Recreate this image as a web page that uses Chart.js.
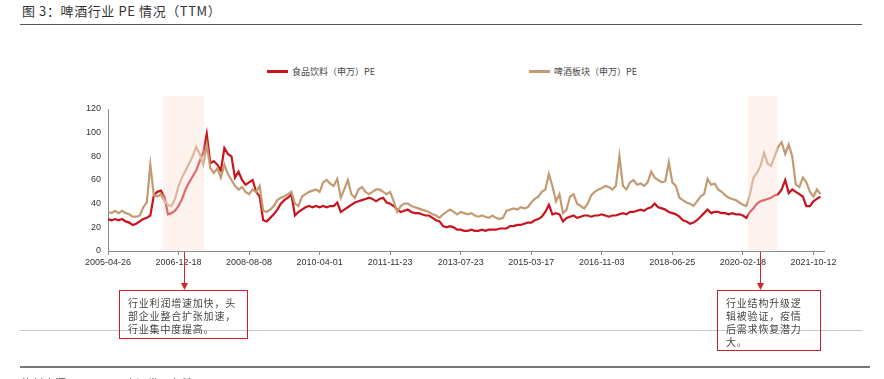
<!DOCTYPE html>
<html>
<head>
<meta charset="utf-8">
<script src="https://cdn.jsdelivr.net/npm/chart.js@4/dist/chart.umd.min.js"></script>
<style>
  html, body { margin: 0; padding: 0; background: #fff; }
  body { width: 884px; height: 379px; position: relative; overflow: hidden;
         font-family: "Noto Sans CJK SC", "Liberation Sans", sans-serif; color: #333; }
  #chart { position: absolute; left: 0; top: 0; }
  .title { position: absolute; left: 22px; top: 1px; font-size: 13px; letter-spacing: 0.6px; color: #333; }
  .rule { position: absolute; left: 20px; width: 842px; }
  .legend { position: absolute; top: 65px; font-size: 9px; color: #444; display: flex; align-items: center; }
  .legend i { display: inline-block; width: 21px; height: 2.5px; margin-right: 4px; }
  .note { position: absolute; border: 1.2px solid #c81e24; box-sizing: border-box;
          font-size: 10px; line-height: 13px; letter-spacing: 0.8px; color: #444; padding: 5px 0 0 8px; }
  .source { position: absolute; left: 22px; top: 375px; font-size: 11px; color: #444; }
</style>
</head>
<body>
<div class="title">图 3：啤酒行业 PE 情况（TTM）</div>
<div class="rule" style="top:24px;height:1px;background:#555"></div>
<div class="legend" style="left:267px"><i style="background:#c8141e"></i>食品饮料（申万）PE</div>
<div class="legend" style="left:529px"><i style="background:#c39b73"></i>啤酒板块（申万）PE</div>
<canvas id="chart" width="884" height="379"></canvas>
<div class="rule" style="top:330px;height:1px;background:#c8c8c8"></div>
<div class="note" style="left:119px;top:290px;width:129px;height:49px">行业利润增速加快，头<br>部企业整合扩张加速，<br>行业集中度提高。</div>
<div class="note" style="left:717px;top:290px;width:104px;height:61px">行业结构升级逻<br>辑被验证，疫情<br>后需求恢复潜力<br>大。</div>
<div class="rule" style="top:366px;height:2px;background:#777;width:850px"></div>
<div class="source">资料来源：Wind，平安证券研究所</div>
<script>
(() => {
  /* -----------------------------
   * Data (one point ~ every 20 trading days)
   * ----------------------------- */
  const tickLabels = [
    "2005-04-26", "2006-12-18", "2008-08-08", "2010-04-01", "2011-11-23", "2013-07-23",
    "2015-03-17", "2016-11-03", "2018-06-25", "2020-02-18", "2021-10-12",
  ];

  const foodPE = [
    27, 26, 27, 26, 27, 25, 24, 22, 23, 25, 27, 28, 30, 47, 50, 51, 46, 31, 32, 34,
    38, 44, 52, 58, 63, 68, 76, 83, 99, 74, 76, 73, 68, 87, 82, 80, 62, 67, 60, 56,
    58, 60, 50, 46, 26, 25, 28, 31, 35, 40, 43, 45, 48, 30, 33, 35, 37, 38, 37, 38,
    37, 38, 37, 38, 38, 41, 33, 35, 37, 39, 41, 42, 43, 44, 45, 44, 42, 44, 45, 41,
    40, 38, 35, 33, 34, 35, 33, 32, 32, 31, 30, 30, 28, 26, 25, 21, 20, 21, 20, 18,
    18, 17, 17, 18, 17, 17, 18, 17, 18, 18, 18, 19, 19, 19, 21, 21, 22, 22, 23, 24,
    24, 26, 27, 29, 33, 39, 31, 32, 31, 25, 28, 29, 30, 28, 29, 30, 30, 29, 30, 30,
    31, 30, 29, 30, 30, 31, 32, 31, 33, 33, 34, 35, 34, 36, 37, 40, 37, 36, 35, 33,
    32, 31, 29, 26, 25, 23, 24, 26, 29, 32, 35, 32, 33, 33, 32, 32, 31, 32, 31, 31,
    30, 28, 33, 36, 40, 42, 43, 44, 45, 47, 48, 52, 60, 49, 52, 50, 48, 46, 38, 38,
    42, 44, 46,
  ];

  const beerPE = [
    33, 32, 34, 32, 34, 32, 31, 29, 29, 30, 37, 41, 73, 47, 46, 48, 42, 39, 38, 44,
    55, 62, 68, 74, 80, 88, 82, 73, 90, 70, 66, 70, 62, 73, 65, 60, 55, 52, 54, 50,
    48, 52, 50, 55, 34, 33, 35, 38, 43, 45, 46, 48, 50, 40, 38, 46, 48, 50, 51, 52,
    50, 58, 60, 57, 55, 61, 45, 52, 60, 48, 45, 52, 54, 50, 48, 50, 52, 52, 50, 48,
    50, 42, 33, 38, 40, 40, 38, 37, 36, 35, 34, 33, 31, 30, 28, 31, 33, 35, 33, 31,
    33, 32, 31, 32, 30, 29, 30, 29, 28, 30, 28, 27, 28, 34, 35, 36, 35, 37, 36, 37,
    41, 44, 46, 50, 52, 65, 55, 42, 48, 32, 35, 46, 48, 40, 38, 36, 40, 47, 50, 52,
    53, 55, 54, 52, 55, 80, 55, 52, 58, 60, 56, 57, 55, 58, 67, 62, 60, 58, 59, 75,
    58, 55, 45, 43, 41, 40, 38, 42, 46, 48, 61, 56, 57, 52, 50, 47, 45, 44, 43, 41,
    39, 38, 48, 62, 66, 72, 83, 74, 72, 80, 88, 92, 82, 90, 80, 56, 54, 62, 58, 50,
    46, 52, 48,
  ];

  // highlighted periods and arrow anchors, in point index units
  const shadeRanges = [[15.6, 27.3], [181.4, 189.8]];
  const arrowAt = [21.5, 184.8];

  /* -----------------------------
   * Overlay plugin: shading + arrows
   * ----------------------------- */
  const overlay = {
    id: "overlay",
    afterDatasetsDraw(chart) {
      const { ctx, chartArea, scales: { x } } = chart;
      ctx.save();
      ctx.fillStyle = "rgba(250,225,212,0.42)";
      for (const [a, b] of shadeRanges) {
        const x0 = x.getPixelForValue(a);
        const x1 = x.getPixelForValue(b);
        ctx.fillRect(x0, chartArea.top - 13, x1 - x0, chartArea.bottom - chartArea.top + 12);
      }
      ctx.strokeStyle = "#d0262c";
      ctx.fillStyle = "#d0262c";
      ctx.lineWidth = 1;
      for (const v of arrowAt) {
        const px = Math.round(x.getPixelForValue(v)) + 0.5;
        ctx.beginPath();
        ctx.moveTo(px, chartArea.bottom + 1);
        ctx.lineTo(px, 284);
        ctx.stroke();
        ctx.beginPath();
        ctx.moveTo(px - 3.5, 283);
        ctx.lineTo(px + 3.5, 283);
        ctx.lineTo(px, 290);
        ctx.closePath();
        ctx.fill();
      }
      ctx.restore();
    },
  };

  const toPoints = (arr) => arr.map((y, i) => ({ x: i, y }));
  const tickFont = { family: "'Liberation Sans', Arial, sans-serif", size: 9 };

  new Chart(document.getElementById("chart"), {
    type: "line",
    data: {
      datasets: [
        { label: "啤酒板块（申万）PE", data: toPoints(beerPE), borderColor: "#c39b73", borderWidth: 2.2, pointRadius: 0, tension: 0 },
        { label: "食品饮料（申万）PE", data: toPoints(foodPE), borderColor: "#c8141e", borderWidth: 2.2, pointRadius: 0, tension: 0 },
      ],
    },
    options: {
      responsive: false,
      animation: false,
      layout: { padding: { left: 0, right: 60, top: 109, bottom: 108 } },
      plugins: { legend: { display: false }, tooltip: { enabled: false } },
      scales: {
        x: {
          type: "linear",
          min: 0,
          max: 203,
          afterFit: (s) => { s.height = 20; },
          border: { color: "#8a8a8a" },
          grid: { drawOnChartArea: false, tickLength: 4, color: "#8a8a8a" },
          ticks: {
            stepSize: 20,
            includeBounds: false,
            autoSkip: false,
            maxRotation: 0,
            padding: 2,
            color: "#333",
            font: tickFont,
            callback: (v) => tickLabels[v / 20] ?? "",
          },
        },
        y: {
          min: 0,
          max: 120,
          afterFit: (s) => { s.width = 108; },
          border: { color: "#8a8a8a" },
          grid: { display: false, drawTicks: false },
          ticks: { stepSize: 20, padding: 7, color: "#333", font: tickFont },
        },
      },
    },
    plugins: [overlay],
  });
})();
</script>
</body>
</html>
